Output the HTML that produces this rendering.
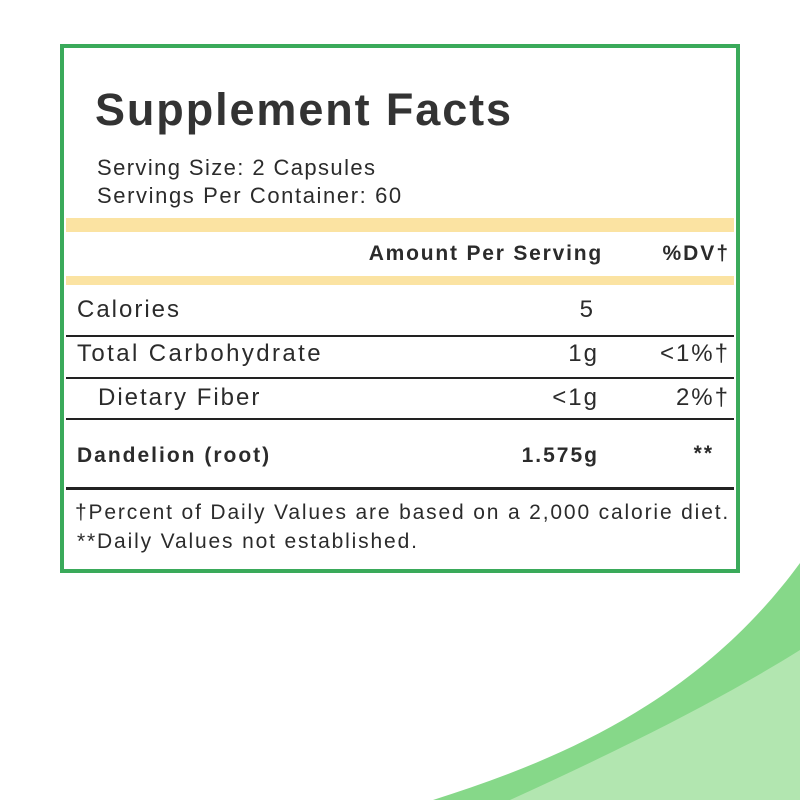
<!DOCTYPE html>
<html><head><meta charset="utf-8"><style>
body{margin:0;width:800px;height:800px;background:#fff;position:relative;overflow:hidden;font-family:"Liberation Sans",sans-serif;color:#2b2b2b}
.t{position:absolute;white-space:nowrap;letter-spacing:2px}
.r{text-align:right}
.line{position:absolute;left:66px;width:668px;background:#222}
</style></head><body>
<svg style="position:absolute;left:0;top:0" width="800" height="800">
<path d="M433,800 C560,760 700,700 800,563 L800,800 Z" fill="#86d889"/>
<path d="M510,800 C620,750 720,700 800,650 L800,800 Z" fill="#b2e6b0"/>
</svg>
<div style="position:absolute;left:60px;top:44px;width:672px;height:521px;border:4px solid #3aaa5a;background:#fff"></div>
<div class="t" style="left:95px;top:84px;font-size:45px;font-weight:bold;color:#333;letter-spacing:1.9px">Supplement Facts</div>
<div class="t" style="left:97px;top:155px;font-size:22px;letter-spacing:1.4px">Serving Size: 2 Capsules</div>
<div class="t" style="left:97px;top:183px;font-size:22px;letter-spacing:1.6px">Servings Per Container: 60</div>
<div style="position:absolute;left:66px;top:218px;width:668px;height:14px;background:#fbe3a2"></div>
<div style="position:absolute;left:66px;top:276px;width:668px;height:9px;background:#fbe3a2"></div>
<div class="t r" style="right:197px;top:242px;font-size:21px;font-weight:bold;letter-spacing:1.8px">Amount Per Serving</div>
<div class="t r" style="right:70px;top:242px;font-size:21px;font-weight:bold">%DV†</div>
<div class="t" style="left:77px;top:296px;font-size:24px">Calories</div>
<div class="t r" style="right:205px;top:296px;font-size:24px">5</div>
<div class="line" style="top:335px;height:2px"></div>
<div class="t" style="left:77px;top:340px;font-size:24px;letter-spacing:2.4px">Total Carbohydrate</div>
<div class="t r" style="right:201px;top:340px;font-size:24px">1g</div>
<div class="t r" style="right:70px;top:340px;font-size:24px">&lt;1%†</div>
<div class="line" style="top:377px;height:2px"></div>
<div class="t" style="left:98px;top:384px;font-size:24px">Dietary Fiber</div>
<div class="t r" style="right:201px;top:384px;font-size:24px">&lt;1g</div>
<div class="t r" style="right:70px;top:384px;font-size:24px">2%†</div>
<div class="line" style="top:418px;height:2px"></div>
<div class="t" style="left:77px;top:444px;font-size:21px;font-weight:bold">Dandelion (root)</div>
<div class="t r" style="right:201px;top:444px;font-size:21px;font-weight:bold">1.575g</div>
<div class="t r" style="right:86px;top:442px;font-size:21px;font-weight:bold">**</div>
<div class="line" style="top:487px;height:3px"></div>
<div class="t" style="left:75px;top:501px;font-size:21px;letter-spacing:1.85px">†Percent of Daily Values are based on a 2,000 calorie diet.</div>
<div class="t" style="left:77px;top:530px;font-size:21px;letter-spacing:1.85px">**Daily Values not established.</div>
</body></html>
